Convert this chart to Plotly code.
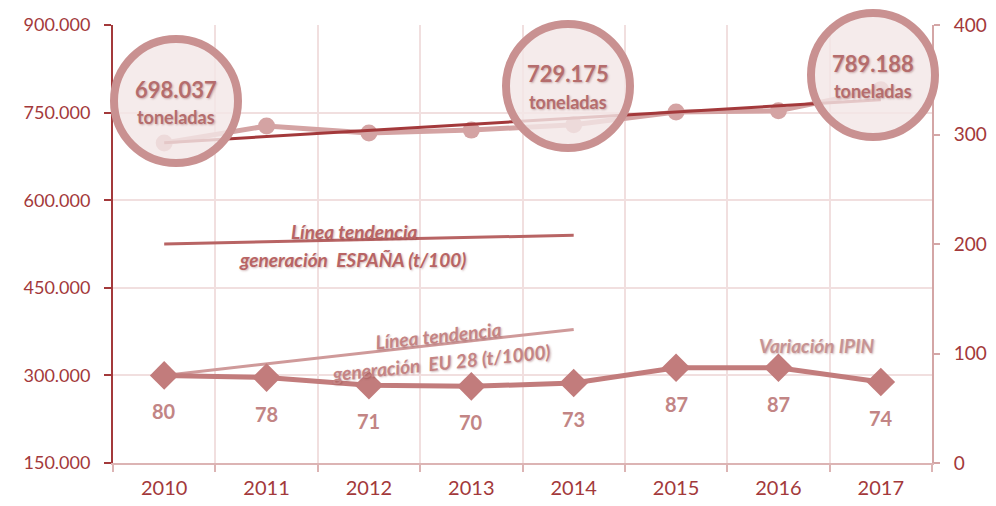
import plotly.graph_objects as go

# ---------------- data ----------------
years = ["2010", "2011", "2012", "2013", "2014", "2015", "2016", "2017"]
generacion_es = [698037, 727000, 715000, 720000, 729175, 751000, 753000, 789188]
trend_es_years = ["2010", "2017"]
trend_es_values = [698400, 772100]
ipin = [80, 78, 71, 70, 73, 87, 87, 74]
trend_spain_years = ["2010", "2014"]
trend_spain_values = [200, 208]
trend_eu_years = ["2010", "2014"]
trend_eu_values = [80, 122]
left_ticks = [150000, 300000, 450000, 600000, 750000, 900000]
left_ticktext = ["150.000", "300.000", "450.000", "600.000", "750.000", "900.000"]
right_ticks = [0, 100, 200, 300, 400]
callout_text = ["698.037", "729.175", "789.188"]

# ---------------- style ----------------
OFF = 8                       # default page margin around the figure
W, H = 996 - 2 * OFF, 506 - 2 * OFF
ML, MT = 113 - OFF, 25 - OFF
MR = W - (932 - OFF)
MB = H - (463 - OFF)
DARK = "#a3393b"
LIGHT = "#d4a3a3"
ROSE = "#c27c7c"
TXT = "#b56d6d"
GRID = "#f1dfdf"
FONT = "Lato"
SHADOW = "1px 1px 2px rgba(120,50,50,0.35)"


def px2paper(px, py):
    fx, fy = px - OFF, py - OFF
    return (fx - ML) / (W - ML - MR), (H - MB - fy) / (H - MT - MB)


fig = go.Figure()

fig.add_trace(go.Scatter(
    x=years, y=generacion_es, mode="lines+markers",
    line=dict(color=LIGHT, width=5), marker=dict(size=17, color=LIGHT),
    yaxis="y", showlegend=False, hoverinfo="skip"))

fig.add_trace(go.Scatter(
    x=trend_es_years, y=trend_es_values, mode="lines",
    line=dict(color=DARK, width=3), yaxis="y", showlegend=False, hoverinfo="skip"))

fig.add_trace(go.Scatter(
    x=trend_spain_years, y=trend_spain_values, mode="lines",
    line=dict(color="#b86464", width=3), yaxis="y2", showlegend=False, hoverinfo="skip"))

fig.add_trace(go.Scatter(
    x=trend_eu_years, y=trend_eu_values, mode="lines",
    line=dict(color="#cf9a9a", width=3), yaxis="y2", showlegend=False, hoverinfo="skip"))

fig.add_trace(go.Scatter(
    x=years, y=ipin, mode="lines+markers",
    line=dict(color=ROSE, width=5), marker=dict(symbol="diamond", size=22, color=ROSE),
    yaxis="y2", showlegend=False, hoverinfo="skip"))

annotations = []
# value labels below diamonds (category axis -> serial index)
for i, v in enumerate(ipin):
    annotations.append(dict(
        x=i, y=v, xref="x", yref="y2", yshift=-36, text=str(v), showarrow=False,
        xanchor="center", yanchor="middle",
        font=dict(family=FONT, size=20, color="#c28585", weight="bold")))

# callout circles
circle_centers = [(176, 101), (568, 86), (873, 75)]
R = 62
shapes = []
for (cx, cy), num in zip(circle_centers, callout_text):
    x0, y0 = px2paper(cx - R, cy + R)
    x1, y1 = px2paper(cx + R, cy - R)
    shapes.append(dict(type="circle", xref="paper", yref="paper",
                       x0=x0, y0=y0, x1=x1, y1=y1, layer="above",
                       line=dict(color="#c99191", width=8),
                       fillcolor="rgba(243,230,230,0.82)"))
    ax, ay = px2paper(cx, cy - 12)
    annotations.append(dict(x=ax, y=ay, xref="paper", yref="paper", text=num,
                            showarrow=False, xanchor="center", yanchor="middle",
                            font=dict(family=FONT, size=22, color=TXT, weight="bold",
                                      shadow=SHADOW)))
    bx, by = px2paper(cx, cy + 16)
    annotations.append(dict(x=bx, y=by, xref="paper", yref="paper", text="toneladas",
                            showarrow=False, xanchor="center", yanchor="middle",
                            font=dict(family=FONT, size=18, color=TXT, weight="bold",
                                      shadow=SHADOW)))

# trend line labels
def add_label(px, py, text, angle=0, color="#b86464", size=19):
    x, y = px2paper(px, py)
    annotations.append(dict(x=x, y=y, xref="paper", yref="paper", text=text,
                            showarrow=False, textangle=angle,
                            xanchor="center", yanchor="middle",
                            font=dict(family=FONT, size=size, color=color, weight="bold",
                                      style="italic", shadow=SHADOW)))

add_label(354, 231, "Línea tendencia")
add_label(352, 259, "generación  ESPAÑA (t/100)")
add_label(438, 335, "Línea tendencia", angle=-6, color="#c48484")
add_label(441, 362, "generación  EU 28 (t/1000)", angle=-6, color="#c48484")
add_label(817, 345, "Variación IPIN", color="#c79393")

fig.update_layout(
    width=W, height=H,
    margin=dict(l=ML, r=MR, t=MT, b=MB, autoexpand=False),
    paper_bgcolor="white", plot_bgcolor="white",
    font=dict(family=FONT),
    showlegend=False,
    shapes=shapes,
    annotations=annotations,
    xaxis=dict(type="category", categoryorder="array", categoryarray=years,
               tickson="boundaries", showgrid=True, gridcolor=GRID, gridwidth=1.5,
               showline=True, linecolor="#dcb4b4", linewidth=2,
               ticks="outside", ticklen=7, tickcolor="#dcb4b4", tickwidth=2,
               ticklabelstandoff=6, automargin=False,
               tickfont=dict(family=FONT, size=20, color=DARK),
               range=[-0.5, 7.5], zeroline=False),
    yaxis=dict(range=[150000, 900000], tickvals=left_ticks, ticktext=left_ticktext,
               showgrid=True, gridcolor=GRID, gridwidth=1.5,
               showline=True, linecolor=DARK, linewidth=2,
               ticks="outside", ticklen=7, tickcolor=DARK, tickwidth=2,
               ticklabelstandoff=10, automargin=False,
               tickfont=dict(family=FONT, size=18, color=DARK), zeroline=False),
    yaxis2=dict(range=[0, 400], tickvals=right_ticks, overlaying="y", side="right",
                showgrid=False, showline=True, linecolor="#d4a6a6", linewidth=2,
                ticks="outside", ticklen=6, tickcolor="#d4a6a6", tickwidth=2,
                ticklabelstandoff=10, automargin=False,
                tickfont=dict(family=FONT, size=19, color=DARK), zeroline=False),
)

fig.write_html("out.html")
